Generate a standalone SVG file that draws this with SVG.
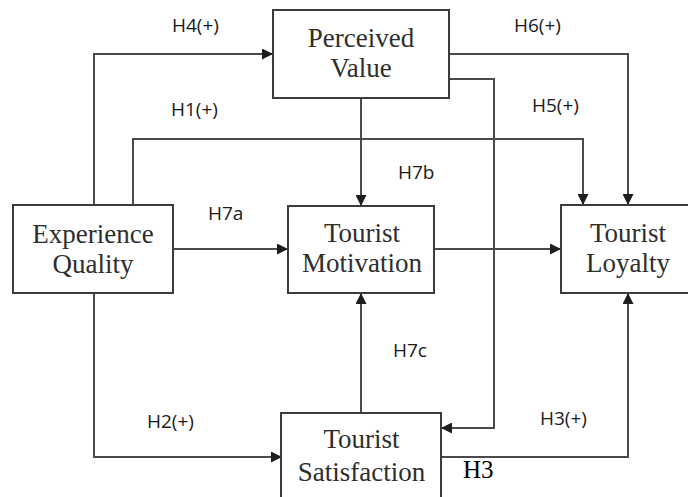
<svg xmlns="http://www.w3.org/2000/svg" width="688" height="497" viewBox="0 0 688 497">
<style>
.box{fill:#fff;stroke:#3c3c3c;stroke-width:2}
.node{font-family:"Liberation Serif","Times New Roman",serif;font-size:27px;fill:#2e2e2e;text-anchor:middle}
.lbl{font-family:"Open Sans","Liberation Sans",sans-serif;font-size:19px;fill:#1a1a1a}
.con{fill:none;stroke:#4a4a4a;stroke-width:2}
</style>
<defs>
<marker id="ah" markerWidth="11" markerHeight="11" refX="10" refY="5.5" orient="auto" markerUnits="userSpaceOnUse">
<path d="M0,0 L11,5.5 L0,11 Z" fill="#1e1e1e"/>
</marker>
</defs>
<rect width="688" height="497" fill="#fff"/>
<g id="connectors">
<path class="con" d="M94,205 V54 H272" marker-end="url(#ah)"/>
<path class="con" d="M133,205 V139 H583 V204" marker-end="url(#ah)"/>
<path class="con" d="M449,54 H628 V204" marker-end="url(#ah)"/>
<path class="con" d="M449,79 H494 V428 H442" marker-end="url(#ah)"/>
<path class="con" d="M361,98 V205" marker-end="url(#ah)"/>
<path class="con" d="M173,249 H287" marker-end="url(#ah)"/>
<path class="con" d="M434,249 H560" marker-end="url(#ah)"/>
<path class="con" d="M361,413 V294" marker-end="url(#ah)"/>
<path class="con" d="M94,293 V457 H281" marker-end="url(#ah)"/>
<path class="con" d="M441,457 H628 V294" marker-end="url(#ah)"/>
</g>
<g id="perceived-value">
<rect class="box" x="273" y="10" width="176" height="88"/>
<text class="node" x="361" y="47">Perceived</text>
<text class="node" x="361" y="77">Value</text>
</g>
<g id="experience-quality">
<rect class="box" x="13" y="205" width="160" height="88"/>
<text class="node" x="93" y="243">Experience</text>
<text class="node" x="93" y="273">Quality</text>
</g>
<g id="tourist-motivation">
<rect class="box" x="288" y="206" width="146" height="87"/>
<text class="node" x="362" y="242">Tourist</text>
<text class="node" x="362" y="272">Motivation</text>
</g>
<g id="tourist-loyalty">
<rect class="box" x="561" y="205" width="140" height="88"/>
<text class="node" x="628" y="242">Tourist</text>
<text class="node" x="628" y="272">Loyalty</text>
</g>
<g id="tourist-satisfaction">
<rect class="box" x="281" y="413" width="160" height="100"/>
<text class="node" x="361.5" y="448">Tourist</text>
<text class="node" x="361.5" y="481">Satisfaction</text>
</g>
<g id="labels">
<text class="lbl" x="172" y="32">H4(+)</text>
<text class="lbl" x="171" y="116">H1(+)</text>
<text class="lbl" x="514" y="32">H6(+)</text>
<text class="lbl" x="532" y="112">H5(+)</text>
<text class="lbl" x="398" y="179">H7b</text>
<text class="lbl" x="208" y="220">H7a</text>
<text class="lbl" x="393" y="357">H7c</text>
<text class="lbl" x="147" y="428">H2(+)</text>
<text class="lbl" x="540" y="425">H3(+)</text>
<text x="463" y="478" style="font-family:'Liberation Serif','Times New Roman',serif;font-size:25px;fill:#000">H3</text>
</g>
</svg>
